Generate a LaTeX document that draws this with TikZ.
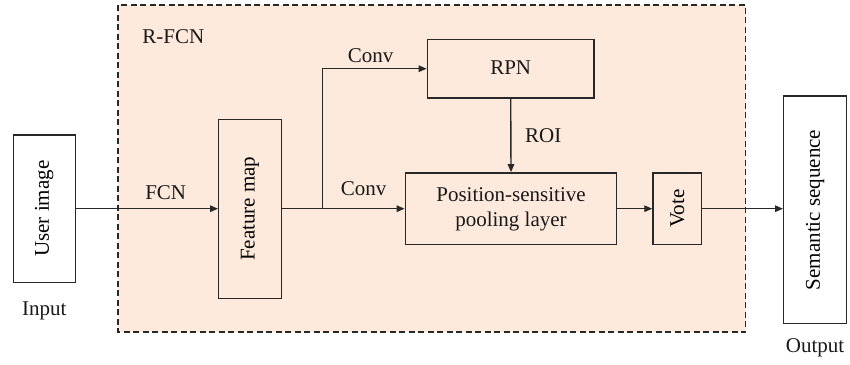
\documentclass[tikz,border=0pt]{standalone}
\usepackage{fontspec}
\setmainfont{Liberation Serif}
\usetikzlibrary{arrows.meta}
\definecolor{peach}{RGB}{253,234,220}
\definecolor{ink}{RGB}{40,40,40}
\tikzset{
  box/.style={draw=ink, line width=1.4pt, inner sep=0pt, align=center},
  flow/.style={draw=ink, line width=1.4pt, -{Triangle[length=8pt,width=6.5pt]}},
  lbl/.style={anchor=base, inner sep=0pt, text=black!90},
}
\begin{document}
\begin{tikzpicture}[x=1pt, y=-1pt, font=\rmfamily\fontsize{21pt}{25pt}\selectfont]
\useasboundingbox (0,0) rectangle (850,364);
\fill[white] (0,0) rectangle (850,364);

% R-FCN region
\draw[fill=peach, draw=ink, line width=1.2pt, dash pattern=on 6pt off 3.5pt]
  (118,5) rectangle (745.7,332);
\node[lbl] (rfcn) at (173.3,43) {R-FCN};

% blocks
\node[box, fill=white, minimum width=62pt, minimum height=147.6pt]
  (user) at (44.3,208.7) {\rotatebox{90}{User image}};
\node[box, minimum width=62.6pt, minimum height=179pt]
  (feat) at (250,208.7) {\rotatebox{90}{Feature map}};
\node[box, minimum width=166.7pt, minimum height=58.4pt]
  (rpn) at (510.7,68.7) {};
\node[lbl] (rpntext) at (510.7,74) {RPN};
\node[box, minimum width=211.4pt, minimum height=71.7pt]
  (psp) at (511,208.7) {};
\node[lbl] (psp1) at (511,201.7) {Position-sensitive};
\node[lbl] (psp2) at (511,226.7) {pooling layer};
\node[box, minimum width=48.7pt, minimum height=71.7pt]
  (vote) at (677.3,208.7) {\rotatebox{90}{Vote}};
\node[box, fill=white, minimum width=63pt, minimum height=227.7pt]
  (sem) at (815.2,209.9) {\rotatebox{90}{Semantic sequence}};

% outer labels
\node[lbl] (inlbl) at (44.2,315) {Input};
\node[lbl] (outlbl) at (815,352.3) {Output};

% connectors
\coordinate (br) at (322.3,208.7);
\draw[flow] (user.east) -- (feat.west);
\draw[draw=ink, line width=1.4pt] (feat.east) -- (br);
\draw[flow] (br) -- (psp.west);
\draw[flow] (br) |- (rpn.west);
\draw[flow] (rpn.south) -- (psp.north);
\draw[flow] (psp.east) -- (vote.west);
\draw[flow] (vote.east) -- (sem.west |- vote.east);

% connector labels
\node[lbl] (fcn) at (165.7,199) {FCN};
\node[lbl] (conv1) at (370.5,62.3) {Conv};
\node[lbl] (conv2) at (363.7,195.7) {Conv};
\node[lbl] (roi) at (543.3,142.3) {ROI};
\end{tikzpicture}
\end{document}
